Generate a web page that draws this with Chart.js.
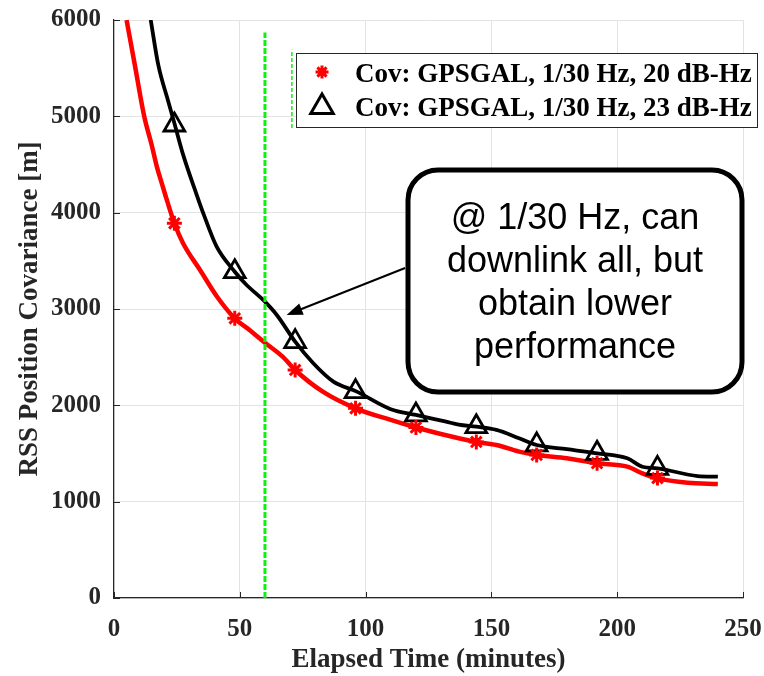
<!DOCTYPE html>
<html lang="en">
<head>
<meta charset="UTF-8">
<title>RSS Position Covariance</title>
<script src="https://cdn.jsdelivr.net/npm/chart.js@4.4.0/dist/chart.umd.min.js"></script>
<style>
  html, body { margin: 0; padding: 0; background: #fff; }
  #wrap { width: 764px; height: 676px; }
</style>
</head>
<body>
<div id="wrap"><canvas id="covChart" width="764" height="676"></canvas></div>
<script>
// curves (minutes, metres)
var redX = [5, 8.3, 12, 15, 17, 19, 21, 24, 27.5, 34.2, 40.9, 48, 54, 60, 67, 72, 83, 96, 110, 120, 137, 144, 152, 161, 168, 180, 192, 204, 210, 216, 228, 240];
var redY = [6000, 5530, 5000, 4700, 4480, 4305, 4132, 3890, 3680, 3405, 3130, 2903, 2780, 2650, 2505, 2367, 2142, 1969, 1848, 1770, 1658, 1620, 1588, 1520, 1485, 1450, 1398, 1363, 1294, 1242, 1197, 1183];
var blackX = [14.6, 17.6, 21.6, 24.2, 27.5, 32.9, 35.5, 40.8, 48, 52.7, 59.3, 64.7, 72, 79.2, 87.2, 96.5, 110, 120, 132, 137, 144, 152, 161, 168, 180, 192, 204, 210, 216, 232, 240];
var blackY = [6000, 5533, 5152, 4910, 4600, 4183, 3993, 3647, 3387, 3249, 3094, 2938, 2661, 2437, 2246, 2142, 1960, 1900, 1830, 1800, 1778, 1745, 1658, 1588, 1545, 1502, 1450, 1363, 1346, 1266, 1259];

// markers every 24 minutes
var markX = [24, 48, 72, 96, 120, 144, 168, 192, 216];
var redMarkY = [3890, 2903, 2367, 1969, 1770, 1620, 1485, 1400, 1245];
var blackMarkY = [4910, 3387, 2661, 2142, 1900, 1778, 1590, 1502, 1346];

// green dashed line at 60 minutes, and the stub next to the legend
var greenX = [60, 60];
var greenY = [0, 5870];
var stubX = [70.7, 70.7];
var stubY = [4880, 5690];

var xTicks = [0, 50, 100, 150, 200, 250];
var yTicks = [0, 1000, 2000, 3000, 4000, 5000, 6000];

var legendLabels = ['Cov: GPSGAL, 1/30 Hz, 20 dB-Hz', 'Cov: GPSGAL, 1/30 Hz, 23 dB-Hz'];
var noteLines = ['@ 1/30 Hz, can', 'downlink all, but', 'obtain lower', 'performance'];

function pts(xs, ys) {
    return xs.map(function (x, i) { return { x: x, y: ys[i] }; });
}

var axisColor = '#262626';
var green = '#11ee11';
var serif = '"Liberation Serif", "Times New Roman", serif';

function drawStar(ctx, x, y, r) {
    ctx.beginPath();
    for (var k = 0; k < 4; k++) {
        var a = k * Math.PI / 4;
        ctx.moveTo(x - Math.cos(a) * r, y - Math.sin(a) * r);
        ctx.lineTo(x + Math.cos(a) * r, y + Math.sin(a) * r);
    }
    ctx.stroke();
}

function drawTri(ctx, x, y, r) {
    ctx.beginPath();
    for (var k = 0; k < 3; k++) {
        var a = k * 2 * Math.PI / 3;
        var px = x + Math.sin(a) * r, py = y - Math.cos(a) * r;
        if (k === 0) ctx.moveTo(px, py); else ctx.lineTo(px, py);
    }
    ctx.closePath();
    ctx.stroke();
}

var overlay = {
    id: 'overlay',
    afterDraw: function (chart) {
        var ctx = chart.ctx;
        var xs = chart.scales.x, ys = chart.scales.y;
        var area = chart.chartArea;
        ctx.save();

        // inward ticks
        ctx.strokeStyle = axisColor;
        ctx.lineWidth = 1;
        ctx.beginPath();
        xTicks.forEach(function (t) {
            var px = Math.round(xs.getPixelForValue(t)) + 0.5;
            ctx.moveTo(px, area.bottom);
            ctx.lineTo(px, area.bottom - 6);
        });
        yTicks.forEach(function (t) {
            var py = Math.round(ys.getPixelForValue(t)) + 0.5;
            ctx.moveTo(area.left, py);
            ctx.lineTo(area.left + 6, py);
        });
        ctx.stroke();

        // green stub left of the legend
        ctx.strokeStyle = green;
        ctx.lineWidth = 1.5;
        ctx.setLineDash([4, 2]);
        ctx.beginPath();
        ctx.moveTo(xs.getPixelForValue(stubX[0]), ys.getPixelForValue(stubY[0]));
        ctx.lineTo(xs.getPixelForValue(stubX[1]), ys.getPixelForValue(stubY[1]));
        ctx.stroke();
        ctx.setLineDash([]);

        // legend
        var lx = 296, ly = 53, lw = 461, lh = 74;
        ctx.fillStyle = '#fff';
        ctx.fillRect(lx, ly, lw, lh);
        ctx.strokeStyle = axisColor;
        ctx.lineWidth = 1;
        ctx.strokeRect(lx + 0.5, ly + 0.5, lw, lh);
        ctx.lineWidth = 3;
        ctx.strokeStyle = '#ff0000';
        drawStar(ctx, 322, 72, 6.5);
        ctx.strokeStyle = '#000';
        drawTri(ctx, 322, 107, 13);
        ctx.fillStyle = '#000';
        ctx.font = 'bold 27px ' + serif;
        ctx.textBaseline = 'middle';
        ctx.textAlign = 'left';
        ctx.fillText(legendLabels[0], 355, 75);
        ctx.fillText(legendLabels[1], 355, 109);

        // annotation box
        var bx = 408, by = 170, bw = 334, bh = 222, r = 30;
        ctx.lineWidth = 5;
        ctx.strokeStyle = '#000';
        ctx.fillStyle = '#fff';
        ctx.beginPath();
        ctx.moveTo(bx + r, by);
        ctx.arcTo(bx + bw, by, bx + bw, by + bh, r);
        ctx.arcTo(bx + bw, by + bh, bx, by + bh, r);
        ctx.arcTo(bx, by + bh, bx, by, r);
        ctx.arcTo(bx, by, bx + bw, by, r);
        ctx.closePath();
        ctx.fill();
        ctx.stroke();
        ctx.fillStyle = '#000';
        ctx.font = '36px "Liberation Sans", Arial, sans-serif';
        ctx.textAlign = 'center';
        noteLines.forEach(function (s, i) {
            ctx.fillText(s, 575, 219 + i * 43);
        });

        // arrow from the box to the black curve
        var tx = xs.getPixelForValue(68.6), ty = ys.getPixelForValue(2938);
        var sx = xs.getPixelForValue(115.7), sy = ys.getPixelForValue(3426);
        var ang = Math.atan2(ty - sy, tx - sx);
        ctx.lineWidth = 2;
        ctx.beginPath();
        ctx.moveTo(sx, sy);
        ctx.lineTo(tx - Math.cos(ang) * 12, ty - Math.sin(ang) * 12);
        ctx.stroke();
        ctx.beginPath();
        ctx.moveTo(tx, ty);
        ctx.lineTo(tx - Math.cos(ang) * 16 + Math.sin(ang) * 6, ty - Math.sin(ang) * 16 - Math.cos(ang) * 6);
        ctx.lineTo(tx - Math.cos(ang) * 16 - Math.sin(ang) * 6, ty - Math.sin(ang) * 16 + Math.cos(ang) * 6);
        ctx.closePath();
        ctx.fill();

        ctx.restore();
    }
};

var ctx = document.getElementById('covChart').getContext('2d');
var covChart = new Chart(ctx, {
    type: 'scatter',
    data: {
        datasets: [{
            data: pts(greenX, greenY),
            showLine: true,
            borderColor: green,
            borderWidth: 3,
            borderDash: [6, 2],
            pointRadius: 0,
            order: 0
        }, {
            data: pts(markX, redMarkY),
            pointStyle: 'star',
            pointRadius: 7.5,
            borderColor: '#ff0000',
            borderWidth: 3,
            order: 1
        }, {
            data: pts(markX, blackMarkY),
            pointStyle: 'triangle',
            pointRadius: 12,
            backgroundColor: 'rgba(0,0,0,0)',
            borderColor: '#000',
            borderWidth: 2.8,
            order: 1
        }, {
            data: pts(blackX, blackY),
            showLine: true,
            borderColor: '#000',
            borderWidth: 3.8,
            pointRadius: 0,
            cubicInterpolationMode: 'monotone',
            order: 2
        }, {
            data: pts(redX, redY),
            showLine: true,
            borderColor: '#ff0000',
            borderWidth: 4.5,
            pointRadius: 0,
            cubicInterpolationMode: 'monotone',
            order: 2
        }]
    },
    options: {
        responsive: false,
        devicePixelRatio: 1,
        animation: false,
        layout: { padding: { top: 20, right: 21, left: 0, bottom: 0 } },
        plugins: { legend: { display: false }, tooltip: { enabled: false } },
        scales: {
            x: {
                type: 'linear',
                min: 0, max: 250,
                afterFit: function (s) { s.height = 78; s.paddingLeft = 0; s.paddingRight = 0; },
                afterBuildTicks: function (s) { s.ticks = xTicks.map(function (v) { return { value: v }; }); },
                grid: { color: '#e3e3e3', drawTicks: false },
                border: { color: axisColor, width: 1.2 },
                ticks: { color: axisColor, padding: 17, maxRotation: 0, font: { family: serif, size: 25, weight: 'bold' } },
                title: { display: true, text: 'Elapsed Time (minutes)', color: axisColor, padding: { top: 0, bottom: 0 }, font: { family: serif, size: 27, weight: 'bold' } }
            },
            y: {
                min: 0, max: 6000,
                afterFit: function (s) { s.width = 114; s.paddingTop = 0; s.paddingBottom = 0; },
                afterBuildTicks: function (s) { s.ticks = yTicks.map(function (v) { return { value: v }; }); },
                grid: { color: '#e3e3e3', drawTicks: false },
                border: { color: axisColor, width: 1.2 },
                ticks: {
                    color: axisColor, padding: 13,
                    font: { family: serif, size: 25, weight: 'bold' },
                    callback: function (v) { return String(v); }
                },
                title: { display: true, text: 'RSS Position Covariance [m]', color: axisColor, padding: { top: 14, bottom: 0 }, font: { family: serif, size: 27, weight: 'bold' } }
            }
        }
    },
    plugins: [overlay]
});
</script>
</body>
</html>
